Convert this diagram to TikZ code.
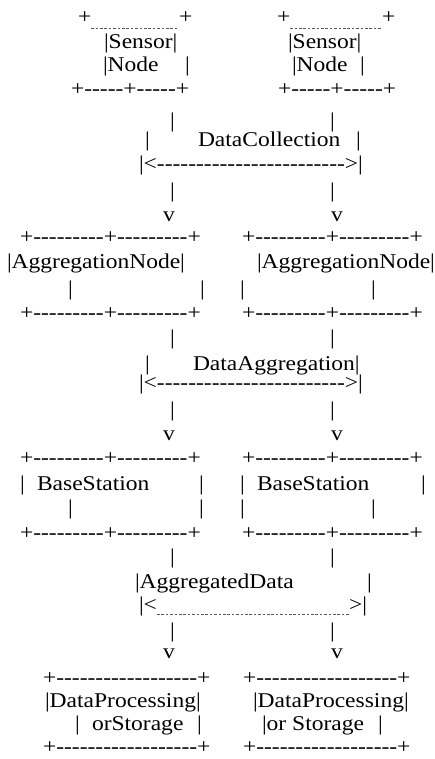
\documentclass[tikz,border=0pt]{standalone}
\usepackage{fontspec}
\setmainfont{Liberation Serif}[Ligatures=TeXOff,FakeStretch=1.12]

\begin{document}
\begin{tikzpicture}[x=1pt,y=-1pt,
	asc/.style={anchor=base west,inner sep=0pt,outer sep=0pt,font=\fontsize{21}{24}\selectfont},
	dots/.style={black!65,line width=0.7pt,dash pattern=on 2.6pt off 1.8pt}]
	\useasboundingbox (0,0) rectangle (435,759);
	% sensor nodes
	\foreach \n/\a/\b in {l/78/179,r/277/382} {
		\node[asc] (tpA\n) at (\a,24) {+};
		\node[asc] (tpB\n) at (\b,24) {+};
		\draw[dots] (tpA\n.east |- 0,28) -- (tpB\n.west |- 0,28);
	}
	\node[asc] (senL) at (104,49) {|Sensor|};
	\node[asc] (senR) at (288,49) {|Sensor|};
	\node[asc] (nodL) at (103,72) {|Node};
	\node[asc] (nodLb) at (185,72) {|};
	\node[asc] (nodR) at (292,72) {|Node};
	\node[asc] (nodRb) at (360,72) {|};
	\node[asc] (botL) at (71,96) {+-----+-----+};
	\node[asc] (botR) at (278,96) {+-----+-----+};
	% data collection
	\foreach \n/\x in {l/170,r/330} {\node[asc] (conA\n) at (\x,128) {|};}
	\node[asc] (colBl) at (145,147) {|};
	\node[asc] (colT) at (198,147) {DataCollection};
	\node[asc] (colBr) at (356,147) {|};
	\node[asc] (colArr) at (139,171) {|<------------------------>|};
	\foreach \n/\x/\v in {l/170/163,r/330/331} {
		\node[asc] (conB\n) at (\x,197) {|};
		\node[asc] (arrA\n) at (\v,222) {v};
	}
	% aggregation nodes
	\foreach \n/\x in {l/20,r/242} {
		\node[asc] (agTop\n) at (\x,243) {+---------+---------+};
		\node[asc] (agBot\n) at (\x,319) {+---------+---------+};
	}
	\node[asc] (agL) at (7,268) {|AggregationNode|};
	\node[asc] (agR) at (257,268) {|AggregationNode|};
	\foreach \n/\x in {a/68,b/200,c/240,d/371} {\node[asc] (agS\n) at (\x,295) {|};}
	% data aggregation
	\foreach \n/\x in {l/170,r/330} {\node[asc] (conC\n) at (\x,344) {|};}
	\node[asc] (daggB) at (145,370) {|};
	\node[asc] (daggT) at (193,370) {DataAggregation|};
	\node[asc] (daggArr) at (139,389) {|<------------------------>|};
	\foreach \n/\x/\v in {l/170/163,r/330/331} {
		\node[asc] (conD\n) at (\x,416) {|};
		\node[asc] (arrB\n) at (\v,440) {v};
	}
	% base stations
	\foreach \n/\x in {l/20,r/242} {
		\node[asc] (bsTop\n) at (\x,464) {+---------+---------+};
		\node[asc] (bsBot\n) at (\x,539) {+---------+---------+};
	}
	\foreach \n/\a/\b/\c in {l/20/37/199,r/240/257/421} {
		\node[asc] (bsA\n) at (\a,490) {|};
		\node[asc] (bsT\n) at (\b,490) {BaseStation};
		\node[asc] (bsB\n) at (\c,490) {|};
	}
	\foreach \n/\x in {a/68,b/199,c/240,d/371} {\node[asc] (bsS\n) at (\x,514) {|};}
	% aggregated data
	\foreach \n/\x in {l/170,r/330} {\node[asc] (conE\n) at (\x,563) {|};}
	\node[asc] (adT) at (135,588) {|AggregatedData};
	\node[asc] (adB) at (367,588) {|};
	\node[asc] (adL) at (139,611) {|<};
	\node[asc] (adR) at (349,611) {>|};
	\draw[dots] (adL.east |- 0,614) -- (adR.west |- 0,614);
	\foreach \n/\x/\v in {l/170/163,r/330/331} {
		\node[asc] (conF\n) at (\x,637) {|};
		\node[asc] (arrC\n) at (\v,658) {v};
	}
	% processing / storage
	\foreach \n/\x in {l/43,r/243} {
		\node[asc] (dpTop\n) at (\x,684) {+------------------+};
		\node[asc] (dpBot\n) at (\x,753) {+------------------+};
	}
	\node[asc] (dpL) at (45,707) {|DataProcessing|};
	\node[asc] (dpR) at (253,707) {|DataProcessing|};
	\node[asc] (stA) at (75,730) {|};
	\node[asc] (stL) at (92,730) {orStorage};
	\node[asc] (stB) at (197,730) {|};
	\node[asc] (stR) at (262,730) {|or Storage};
	\node[asc] (stC) at (378,730) {|};
\end{tikzpicture}
\end{document}
